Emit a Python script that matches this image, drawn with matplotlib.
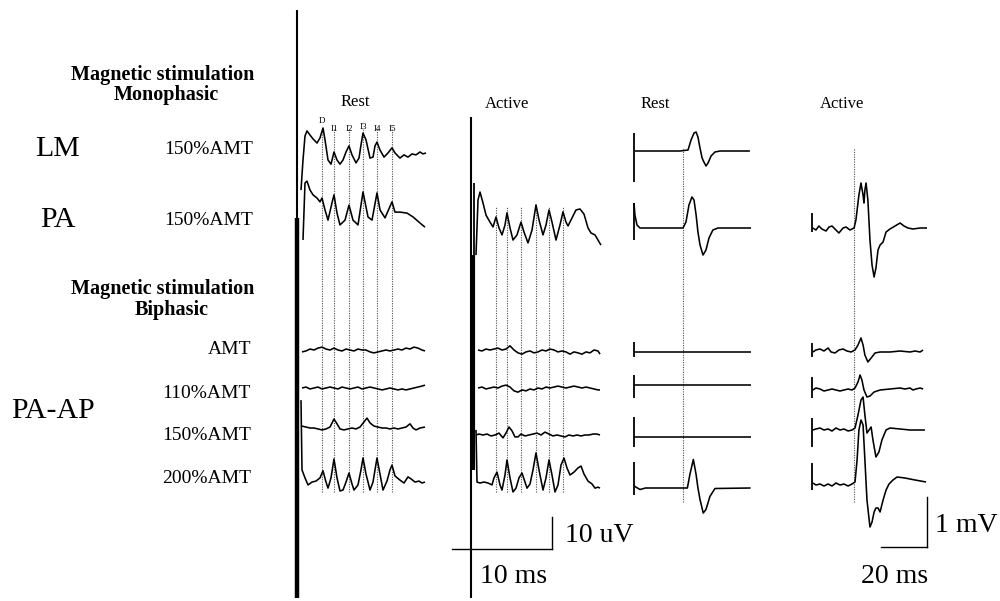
import matplotlib.pyplot as plt
import numpy as np

plt.rcParams["font.family"] = ["Liberation Serif", "DejaVu Serif"]

W, H = 1000, 601

# ---------------------------------------------------------------
# epidural volleys: time in ms after the stimulus, amplitude in uV
# ---------------------------------------------------------------
REST_LM_MS = [0.4, 0.6, 0.8, 1.0, 1.3, 1.6, 2.0, 2.3, 2.6, 2.8, 3.1, 3.4, 3.7, 4.0,
              4.3, 4.6, 4.9, 5.2, 5.5, 5.9, 6.2, 6.4, 6.6, 6.9, 7.3, 7.6, 7.8, 8.0,
              8.3, 8.7, 9.1, 9.5, 9.8, 10.3, 10.7, 11.1, 11.5, 11.9, 12.3, 12.6, 12.9]
REST_LM_UV = [-9.4, 0.0, 7.5, 9.1, 7.8, 6.6, 5.3, 6.9, 10.0, 6.3, 0.0, -1.3, 2.5, 0.0,
              -1.3, 0.0, 2.5, 4.4, 1.6, -0.9, 0.6, 4.7, 8.4, 6.3, 0.6, 0.9, 4.4, 5.6,
              3.1, 0.9, 2.2, 3.8, 2.2, 0.6, 1.6, 0.9, 1.9, 1.6, 2.5, 1.9, 2.2]

REST_PA_MS = [0.6, 0.8, 1.0, 1.3, 1.6, 2.0, 2.3, 2.5, 2.8, 3.1, 3.5, 3.7, 4.0, 4.3,
              4.8, 5.2, 5.6, 6.1, 6.6, 7.1, 7.5, 8.0, 8.3, 8.8, 9.5, 9.8, 10.3, 11.0,
              11.6, 12.3, 12.8]
REST_PA_UV = [-7.8, 10.0, 10.6, 7.8, 6.3, 5.3, 4.1, 5.3, 1.6, -1.6, 3.8, 6.3, 0.6, -3.1,
              -1.6, 3.1, -1.6, -3.1, 7.2, -0.6, -1.6, 6.9, 1.6, -0.9, 4.1, 0.9, 0.9, 0.6,
              -0.6, -2.5, -3.8]

REST_FLAT_MS = [0.5, 0.9, 1.3, 1.7, 2.1, 2.5, 2.9, 3.3, 3.7, 4.1, 4.5, 4.9, 5.3, 5.7,
                6.1, 6.5, 6.9, 7.3, 7.7, 8.1, 8.5, 8.9, 9.3, 9.7, 10.1, 10.5, 10.9, 11.3,
                11.7, 12.1, 12.5, 12.8]
REST_AMT_UV = [-0.6, -0.3, 0.3, 0.0, 0.6, 0.9, 0.3, 0.0, 0.6, 0.0, -0.3, 0.3, 0.0, -0.3,
               0.3, 0.0, 0.0, -0.6, -0.9, -0.6, -0.3, 0.0, -0.3, 0.0, 0.3, 0.0, 0.6, 0.3,
               0.9, 0.6, 0.0, -0.3]
REST_110_UV = [0.0, 0.3, -0.3, 0.0, 0.3, -0.3, 0.0, 0.3, 0.0, -0.3, 0.3, 0.0, -0.3, 0.0,
               0.3, -0.3, 0.0, 0.3, 0.0, -0.3, -0.6, -0.3, 0.0, -0.3, -0.6, -0.3, -0.6, -0.3,
               0.0, 0.3, 0.6, 0.9]

REST_150_MS = [0.5, 0.9, 1.3, 1.7, 2.1, 2.5, 2.9, 3.3, 3.7, 4.0, 4.3, 4.7, 5.1, 5.5,
               5.9, 6.3, 6.7, 7.0, 7.3, 7.7, 8.1, 8.5, 8.9, 9.3, 9.7, 10.1, 10.5, 10.9,
               11.3, 11.6, 11.9, 12.3, 12.8]
REST_150_UV = [0.6, 0.3, 0.0, 0.0, -0.3, -0.6, -0.3, 0.3, 2.8, 1.3, -0.3, -0.6, -0.3, 0.0,
               -0.3, 0.3, 1.9, 3.1, 1.6, 0.6, 0.3, 0.0, 0.0, -0.3, 0.0, -0.3, 0.0, 0.3,
               1.3, 0.0, -0.6, 0.0, 0.3]

REST_200_MS = [0.4, 0.5, 0.8, 1.1, 1.5, 1.9, 2.3, 2.6, 2.9, 3.1, 3.4, 3.7, 4.0, 4.3,
               4.6, 4.9, 5.2, 5.5, 5.7, 6.1, 6.4, 6.6, 6.9, 7.3, 7.6, 8.0, 8.3, 8.6,
               9.0, 9.3, 9.5, 9.8, 10.3, 10.7, 11.1, 11.4, 11.8, 12.2, 12.5, 12.8]
REST_200_UV = [25.9, 4.1, 1.6, -0.6, 0.3, 0.6, 1.6, 3.8, 0.3, -1.6, 1.6, 7.5, 1.6, -2.5,
               -2.2, 0.3, 3.1, -0.3, -2.2, -0.6, 4.1, 7.8, 2.8, -2.2, 0.3, 7.8, 2.8, -2.2,
               0.6, 4.1, 5.6, 2.2, 0.9, 0.0, 1.9, 1.3, 0.3, 0.6, 0.0, 0.3]

ACT_PA_MS = [0.5, 0.7, 0.9, 1.2, 1.5, 1.9, 2.2, 2.5, 2.8, 3.1, 3.4, 3.6, 3.9, 4.2,
             4.6, 5.0, 5.3, 5.7, 6.1, 6.5, 6.8, 7.2, 7.5, 7.8, 8.1, 8.5, 8.9, 9.2,
             9.5, 9.7, 10.1, 10.5, 10.9, 11.3, 11.7, 12.0, 12.4, 12.7, 13.0]
ACT_PA_UV = [-9.4, 7.8, 10.3, 6.9, 3.1, 0.9, -0.6, 2.5, -0.9, -3.1, 0.0, 3.8, -0.9, -4.7,
             -3.1, 0.9, -2.2, -5.6, -1.6, 6.3, 1.6, -3.1, 0.0, 4.7, 0.9, -4.7, 0.0, 4.1,
             0.9, -0.3, 2.2, 4.7, 5.0, 3.4, -0.9, -2.5, -3.1, -4.7, -6.3]

ACT_FLAT_MS = [0.7, 1.1, 1.5, 1.9, 2.3, 2.7, 3.1, 3.5, 3.9, 4.3, 4.7, 5.1, 5.5, 5.9,
               6.3, 6.7, 7.1, 7.5, 7.9, 8.3, 8.7, 9.1, 9.5, 9.9, 10.3, 10.7, 11.1, 11.5,
               11.9, 12.3, 12.7, 12.9]
ACT_AMT_UV = [0.0, -0.3, 0.3, 0.0, 0.3, 0.6, 0.0, 0.3, 1.3, 0.0, -0.9, -1.3, -0.6, -0.3,
              -0.9, -0.6, 0.0, -0.3, 0.3, 0.0, -0.6, -0.3, -0.6, -1.3, -0.6, -0.9, -1.3, -0.6,
              -0.9, 0.0, -0.3, -1.3]
ACT_110_UV = [0.0, 0.3, -0.3, 0.0, 0.3, 0.0, 0.6, 0.9, 0.3, -0.9, -1.3, -0.6, -0.9, -0.3,
              -0.6, 0.0, -0.3, 0.3, 0.0, 0.3, 0.6, 0.3, 0.0, 0.3, 0.6, 0.3, 0.0, 0.3,
              0.0, -0.3, -0.6, -0.6]

ACT_150_MS = [0.5, 0.8, 1.2, 1.6, 2.0, 2.4, 2.8, 3.2, 3.5, 3.8, 4.1, 4.4, 4.7, 5.0,
              5.4, 5.8, 6.2, 6.6, 7.0, 7.4, 7.8, 8.2, 8.6, 9.0, 9.4, 9.8, 10.2, 10.6,
              11.0, 11.4, 11.8, 12.2, 12.6, 12.9]
ACT_150_UV = [0.0, 0.3, 0.0, 0.3, -0.3, 0.0, 0.6, -0.9, 0.6, 2.5, 1.3, -0.6, -0.6, 0.3,
              -0.3, 0.0, 0.3, 0.6, 0.0, 0.9, 0.3, -0.3, 0.0, -0.3, -0.6, 0.0, -0.3, 0.0,
              -0.3, 0.0, 0.0, 0.3, 0.3, 0.0]

ACT_200_MS = [0.5, 0.6, 0.9, 1.3, 1.7, 2.1, 2.3, 2.6, 2.9, 3.1, 3.4, 3.6, 3.9, 4.2,
              4.5, 4.8, 5.1, 5.4, 5.6, 5.9, 6.2, 6.5, 6.8, 7.2, 7.5, 7.8, 8.1, 8.4,
              8.7, 9.0, 9.3, 9.6, 9.9, 10.3, 10.7, 11.0, 11.3, 11.7, 12.1, 12.4, 12.7, 12.9]
ACT_200_UV = [16.6, 0.3, 0.0, 0.3, 0.0, -0.6, 1.6, 3.4, -0.6, -2.2, 2.5, 7.2, 1.6, -2.8,
              -1.6, 1.6, 3.1, 0.3, -1.6, -0.3, 4.1, 9.4, 4.1, -2.2, 1.6, 7.2, 2.5, -2.8,
              -0.6, 5.6, 7.8, 4.7, 2.5, 3.4, 4.7, 5.3, 2.8, 0.6, -0.3, -1.6, -1.3, -1.6]

# D and I wave latencies (ms) marked by dotted lines
WAVE_LABELS = ["D", "I1", "I2", "I3", "I4", "I5"]
REST_WAVES_MS = [2.5, 3.7, 5.2, 6.6, 8.0, 9.5]
ACT_WAVES_MS = [2.5, 3.6, 5.0, 6.5, 7.8, 9.2]

# clipped stimulus artifacts (uV, relative to the top row of each column)
REST_ARTIFACT_UV = [46.9, -136.9]
REST_ARTIFACT_CORE_UV = [-18.1, -136.9]
ACT_ARTIFACT_UV = [33.8, -116.6]
ACT_ARTIFACT_CORE_UV = [-9.4, -76.6]
ACT_ARTIFACT_SPIKE_UV = 13.1

# ---------------------------------------------------------------
# MEPs: time in ms after the stimulus, amplitude in mV
# ---------------------------------------------------------------
MEP_REST_LM_MS = [0.4, 20.0, 23.5, 24.8, 26.1, 27.0, 27.8, 28.7, 29.6, 30.4, 31.3, 32.2,
                  33.5, 35.2, 37.4, 50.4]
MEP_REST_LM_MV = [0.0, 0.0, 0.02, 0.22, 0.36, 0.38, 0.28, 0.06, -0.14, -0.22, -0.30, -0.24,
                  -0.10, -0.02, 0.0, 0.0]
MEP_REST_PA_MS = [0.0, 0.4, 1.3, 2.6, 21.3, 22.6, 23.9, 25.2, 26.1, 27.0, 27.8, 28.7,
                  30.0, 31.3, 32.6, 34.3, 36.5, 50.9]
MEP_REST_PA_MV = [0.5, 0.26, 0.06, 0.0, 0.0, 0.12, 0.46, 0.62, 0.56, 0.26, -0.08, -0.34,
                  -0.54, -0.44, -0.20, -0.04, 0.0, 0.0]
MEP_REST_FLAT_MS = [0.0, 50.9]
MEP_REST_FLAT_MV = [0.0, 0.0]
MEP_REST_200_MS = [0.0, 0.4, 2.6, 5.0, 23.2, 24.3, 25.8, 27.0, 27.8, 28.7, 30.1, 31.3,
                   33.0, 35.2, 50.7]
MEP_REST_200_MV = [0.05, 0.03, -0.03, 0.0, 0.0, 0.27, 0.57, 0.27, 0.0, -0.23, -0.50, -0.43,
                   -0.17, -0.01, 0.0]

MEP_ACT_PA_MS = [0.4, 1.7, 3.0, 4.3, 6.1, 7.4, 8.7, 10.4, 11.7, 13.5, 14.8, 16.5, 18.3,
                 19.1, 20.4, 21.3, 22.2, 22.6, 23.0, 23.5, 24.3, 25.2, 26.1, 27.0, 27.8,
                 28.7, 29.6, 30.9, 32.2, 33.9, 36.1, 38.3, 40.0, 41.7, 43.9, 47.0, 50.0]
MEP_ACT_PA_MV = [0.04, 0.0, 0.08, 0.02, -0.02, 0.06, 0.08, 0.0, -0.06, 0.04, 0.06, 0.0, 0.04,
                 0.2, 0.7, 0.94, 0.7, 0.54, 0.8, 0.94, 0.6, -0.2, -0.7, -0.94, -0.76,
                 -0.4, -0.3, -0.24, -0.04, 0.02, 0.08, 0.14, 0.08, 0.04, 0.02, 0.04, 0.04]
MEP_ACT_AMT_MS = [0.4, 1.7, 3.5, 5.2, 7.0, 8.3, 10.0, 11.7, 13.5, 15.2, 17.0, 18.7, 20.0,
                  21.3, 22.2, 23.0, 24.3, 25.7, 27.4, 29.6, 33.9, 38.3, 42.6, 44.8, 47.0, 48.3]
MEP_ACT_AMT_MV = [0.0, 0.04, 0.06, 0.02, 0.08, 0.0, -0.02, 0.04, 0.06, 0.02, 0.0, 0.04, 0.14,
                  0.28, 0.14, -0.06, -0.2, -0.12, -0.02, 0.0, 0.0, 0.02, 0.0, 0.02, 0.0, 0.04]
MEP_ACT_110_MS = [0.4, 1.7, 3.5, 5.2, 7.0, 8.7, 10.4, 12.2, 13.9, 15.7, 17.4, 18.7, 20.0,
                  20.9, 21.7, 22.6, 23.9, 25.2, 27.0, 29.6, 33.9, 38.3, 40.4, 42.6, 43.9,
                  45.2, 47.0, 48.3]
MEP_ACT_110_MV = [0.0, 0.04, 0.02, -0.02, 0.0, 0.02, 0.0, -0.02, 0.0, 0.02, 0.0, 0.04, 0.16,
                  0.3, 0.2, 0.0, -0.14, -0.12, -0.04, 0.0, 0.02, 0.04, 0.02, 0.04, 0.0,
                  0.02, 0.04, 0.02]
MEP_ACT_150_MS = [0.4, 1.7, 3.5, 5.2, 7.0, 8.7, 10.4, 12.2, 13.9, 15.7, 17.4, 18.7, 20.0,
                  21.3, 22.2, 23.0, 23.9, 24.8, 25.7, 26.5, 27.8, 29.1, 30.4, 32.2, 33.9,
                  38.3, 42.6, 49.1]
MEP_ACT_150_MV = [0.0, 0.02, 0.04, 0.0, 0.02, -0.02, 0.04, 0.0, 0.02, -0.02, 0.0, 0.04, 0.3,
                  0.6, 0.66, 0.3, -0.06, 0.0, 0.06, -0.2, -0.54, -0.44, -0.2, 0.0, 0.04,
                  0.02, 0.0, 0.0]
MEP_ACT_200_MS = [0.4, 1.7, 3.5, 5.2, 7.0, 8.7, 10.4, 12.2, 13.9, 15.7, 17.4, 18.7, 19.6,
                  20.4, 21.3, 22.2, 23.0, 23.9, 25.2, 26.1, 27.0, 27.8, 28.7, 29.6, 30.9,
                  32.2, 33.5, 35.2, 37.0, 40.4, 44.8, 49.6]
MEP_ACT_200_MV = [0.0, -0.04, -0.02, -0.06, -0.02, -0.06, 0.0, -0.04, -0.02, -0.06, -0.02, 0.02,
                  0.46, 1.06, 1.26, 1.16, 0.46, -0.34, -0.88, -0.78, -0.58, -0.5, -0.5, -0.58,
                  -0.34, -0.14, -0.02, 0.06, 0.12, 0.1, 0.06, 0.02]

# artifact extent (top, bottom) in mV for each MEP row
MEP_REST_ARTIFACTS_MV = [(0.36, -0.62), (0.5, -0.24), (0.2, -0.1), (0.2, -0.26),
                         (0.4, -0.2), (0.53, -0.13)]
MEP_ACT_ARTIFACTS_MV = [(0.34, -0.04), (0.18, -0.1), (0.26, -0.16), (0.24, -0.34),
                        (0.4, -0.14)]
MEP_REST_ONSET_MS = 21.3
MEP_ACT_ONSET_MS = 18.3

# ---------------------------------------------------------------
# layout (pixels from the top-left of the figure)
# ---------------------------------------------------------------
EPI_SX, EPI_SY = 10.0, 3.2      # px per ms, px per uV
MEP_SX, MEP_SY = 2.3, 50.0      # px per ms, px per mV
REST_ROWS = [160, 215, 350, 388, 428, 483]
ACT_ROWS = [225, 350, 388, 435, 483]
MEP_REST_ROWS = [151, 228, 352, 385, 437, 488]
MEP_ACT_ROWS = [230, 352, 390, 430, 483]
TRACE_LW = 1.15

fig = plt.figure(figsize=(W / 100, H / 100), dpi=100)


def panel(x0, sx, sy):
    ax = fig.add_axes([0, 0, 1, 1])
    ax.set_xlim(-x0 / sx, (W - x0) / sx)
    ax.set_ylim(-H / sy, 0)
    ax.set_axis_off()
    ax.patch.set_visible(False)
    return ax


def trace(ax, t, amp, base, sy):
    ax.plot(t, np.asarray(amp) - base / sy, color="black", lw=TRACE_LW,
            solid_joinstyle="round", solid_capstyle="butt")


def guides(ax, times, top, bottom, sy):
    ax.vlines(times, -bottom / sy, -top / sy, colors="0.3", lw=0.8,
              linestyles=(0, (1, 1.2)))


def label(x, y, s, size, ha="center", weight="normal"):
    # y is the text baseline in pixels from the top
    fig.text(x / W, 1 - y / H, s, fontsize=size, ha=ha, va="baseline",
             weight=weight)


# --- epidural, rest ---
ax = panel(297, EPI_SX, EPI_SY)
guides(ax, REST_WAVES_MS, 128, 492, EPI_SY)
top = -REST_ROWS[0] / EPI_SY
ax.vlines(0, top + REST_ARTIFACT_UV[1], top + REST_ARTIFACT_UV[0], color="black", lw=1.5)
ax.vlines(-0.05, top + REST_ARTIFACT_CORE_UV[1], top + REST_ARTIFACT_CORE_UV[0],
          color="black", lw=3.2)
rest_data = [(REST_LM_MS, REST_LM_UV), (REST_PA_MS, REST_PA_UV),
             (REST_FLAT_MS, REST_AMT_UV), (REST_FLAT_MS, REST_110_UV),
             (REST_150_MS, REST_150_UV), (REST_200_MS, REST_200_UV)]
for (t, a), base in zip(rest_data, REST_ROWS):
    trace(ax, t, a, base, EPI_SY)

# --- epidural, active ---
ax = panel(471, EPI_SX, EPI_SY)
guides(ax, ACT_WAVES_MS, 207, 492, EPI_SY)
top = -ACT_ROWS[0] / EPI_SY
ax.vlines(0, top + ACT_ARTIFACT_UV[1], top + ACT_ARTIFACT_UV[0], color="black", lw=1.5)
ax.vlines(0.3, top + ACT_ARTIFACT_CORE_UV[1], top + ACT_ARTIFACT_SPIKE_UV,
          color="black", lw=1.3)
ax.vlines(0.15, top + ACT_ARTIFACT_CORE_UV[1], top + ACT_ARTIFACT_CORE_UV[0],
          color="black", lw=3.0)
act_data = [(ACT_PA_MS, ACT_PA_UV), (ACT_FLAT_MS, ACT_AMT_UV),
            (ACT_FLAT_MS, ACT_110_UV), (ACT_150_MS, ACT_150_UV),
            (ACT_200_MS, ACT_200_UV)]
for (t, a), base in zip(act_data, ACT_ROWS):
    trace(ax, t, a, base, EPI_SY)

# 10 ms / 10 uV scale bar
bar_t, bar_y = 8.1, -549 / EPI_SY
ax.plot([bar_t - 10, bar_t], [bar_y, bar_y], color="black", lw=1.0)
ax.plot([bar_t, bar_t], [bar_y, bar_y + 10], color="black", lw=1.0)

# --- MEP, rest ---
ax = panel(634, MEP_SX, MEP_SY)
guides(ax, [MEP_REST_ONSET_MS], 148, 502, MEP_SY)
mep_rest = [(MEP_REST_LM_MS, MEP_REST_LM_MV), (MEP_REST_PA_MS, MEP_REST_PA_MV),
            (MEP_REST_FLAT_MS, MEP_REST_FLAT_MV), (MEP_REST_FLAT_MS, MEP_REST_FLAT_MV),
            (MEP_REST_FLAT_MS, MEP_REST_FLAT_MV), (MEP_REST_200_MS, MEP_REST_200_MV)]
for (t, a), base, (hi, lo) in zip(mep_rest, MEP_REST_ROWS, MEP_REST_ARTIFACTS_MV):
    trace(ax, t, a, base, MEP_SY)
    ax.vlines(0, lo - base / MEP_SY, hi - base / MEP_SY, color="black", lw=1.3)

# --- MEP, active ---
ax = panel(812, MEP_SX, MEP_SY)
guides(ax, [MEP_ACT_ONSET_MS], 148, 502, MEP_SY)
mep_act = [(MEP_ACT_PA_MS, MEP_ACT_PA_MV), (MEP_ACT_AMT_MS, MEP_ACT_AMT_MV),
           (MEP_ACT_110_MS, MEP_ACT_110_MV), (MEP_ACT_150_MS, MEP_ACT_150_MV),
           (MEP_ACT_200_MS, MEP_ACT_200_MV)]
for (t, a), base, (hi, lo) in zip(mep_act, MEP_ACT_ROWS, MEP_ACT_ARTIFACTS_MV):
    trace(ax, t, a, base, MEP_SY)
    ax.vlines(0, lo - base / MEP_SY, hi - base / MEP_SY, color="black", lw=1.3)

# 20 ms / 1 mV scale bar
bar_t, bar_y = 50.0, -547 / MEP_SY
ax.plot([bar_t - 20, bar_t], [bar_y, bar_y], color="black", lw=1.0)
ax.plot([bar_t, bar_t], [bar_y, bar_y + 1], color="black", lw=1.0)

# --- text ---
label(163, 80, "Magnetic stimulation", 14.5, weight="bold")
label(166, 100, "Monophasic", 14.5, weight="bold")
label(57, 156, "LM", 21.5)
label(58, 227, "PA", 21.5)
label(253, 154, "150%AMT", 14, ha="right")
label(253, 225, "150%AMT", 14, ha="right")
label(163, 294, "Magnetic stimulation", 14.5, weight="bold")
label(172, 315, "Biphasic", 14.5, weight="bold")
label(251, 354, "AMT", 14, ha="right")
label(251, 398, "110%AMT", 14, ha="right")
label(53, 418, "PA-AP", 21.5)
label(251, 440, "150%AMT", 14, ha="right")
label(251, 483, "200%AMT", 14, ha="right")

label(355, 106, "Rest", 12)
label(507, 108, "Active", 12)
label(655, 108, "Rest", 12)
label(842, 108, "Active", 12)

for name, t, yb in zip(WAVE_LABELS, REST_WAVES_MS, [123, 131, 131, 129, 131, 131]):
    label(297 + t * EPI_SX, yb, name, 6.5)

label(565, 542, "10 uV", 20, ha="left")
label(514, 583, "10 ms", 20)
label(935, 532, "1 mV", 20, ha="left")
label(895, 583, "20 ms", 20)

fig.savefig("out.png", dpi=100, facecolor="white")
